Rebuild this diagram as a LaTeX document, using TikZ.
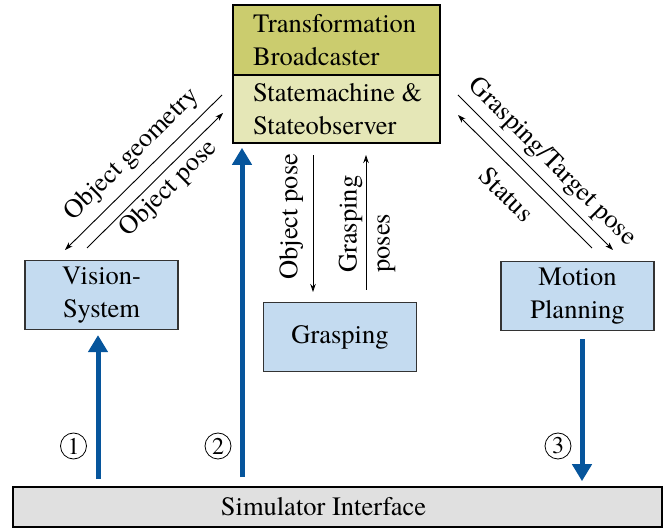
\documentclass[tikz,border=0pt]{standalone}
\usepackage{fontspec}
\setmainfont{TeX Gyre Termes}
\usetikzlibrary{arrows.meta}
\definecolor{olivedark}{RGB}{203,204,110}
\definecolor{olivelight}{RGB}{229,231,183}
\definecolor{boxblue}{RGB}{196,219,240}
\definecolor{simgray}{RGB}{224,224,224}
\definecolor{flowblue}{RGB}{6,85,156}
\begin{document}
\begin{tikzpicture}[x=1pt,y=-1pt,
  >={Stealth[length=8pt,width=5.5pt]},
  every node/.style={font=\rmfamily\fontsize{26.5}{33}\selectfont},
  topbox/.style={draw=black, line width=1.6pt, minimum width=207pt, inner sep=0pt},
  toptext/.style={anchor=west, align=left, inner sep=0pt},
  bluebox/.style={draw=black!80, fill=boxblue, line width=1.2pt, align=center, minimum width=153pt, minimum height=69pt},
  simbox/.style={draw=black, fill=simgray, line width=1.6pt, minimum width=649pt, minimum height=40pt},
  flow/.style={draw=flowblue, line width=5pt, -{Triangle[width=19pt,length=17pt]}},
  msg/.style={draw=black, line width=0.9pt},
  num/.style={circle, draw=black, line width=0.8pt, inner sep=0pt, minimum size=26pt, font=\rmfamily\fontsize{24}{24}\selectfont},
]
\useasboundingbox (0,0) rectangle (665,529);

% top box
\node[topbox, fill=olivedark, minimum height=70pt] (tf) at (336.5,40) {};
\node[topbox, fill=olivelight, minimum height=68pt] (sm) at (336.5,109) {};
\node[toptext] (tft) at (253,40) {Transformation\\Broadcaster};
\node[toptext] (smt) at (253,109) {Statemachine \&\\Stateobserver};

% blue boxes
\node[bluebox] (vis) at (101.5,295) {Vision-\\System};
\node[bluebox] (grasp) at (340,337) {Grasping};
\node[bluebox] (mp) at (577.5,296) {Motion\\Planning};
\node[simbox] (sim) at (337.5,507) {};
\node (simt) at (323.5,507) {Simulator Interface};

% thick flows
\coordinate (c1) at (98,0);
\coordinate (c2) at (242,0);
\coordinate (c3) at (582,0);
\draw[flow, shorten <=7pt, shorten >=5pt] (sim.north -| c1) -- (vis.south -| c1);
\draw[flow, shorten <=9pt, shorten >=4pt] (sim.north -| c2) -- (sm.south -| c2);
\draw[flow, shorten <=8pt, shorten >=5pt] (mp.south -| c3) -- (sim.north -| c3);

\node[num] (n1) at (73.5,446) {1};
\node[num] (n2) at (218,446) {2};
\node[num] (n3) at (558,446) {3};

% left diagonal messages
\coordinate (og1) at (65,250);
\coordinate (og2) at (222,95);
\draw[msg,<-] (og1) -- node[sloped, above=5pt, pos=0.52] {Object geometry} (og2);
\coordinate (op1) at (87,248);
\coordinate (op2) at (223,113);
\draw[msg,->] (op1) -- node[sloped, below=0pt, pos=0.52] {Object pose} (op2);

% right diagonal messages
\coordinate (gt1) at (458,95);
\coordinate (gt2) at (613,250);
\draw[msg,->] (gt1) -- node[sloped, above=3pt, pos=0.52] {Grasping/Target pose} (gt2);
\coordinate (st1) at (458,115);
\coordinate (st2) at (592,248);
\draw[msg,<-] (st1) -- node[sloped, below=9pt, pos=0.48] {Status} (st2);

% vertical messages
\coordinate (vo1) at (313,155);
\coordinate (vo2) at (313,292);
\draw[msg,<-] (vo2) -- node[sloped, above=6pt, pos=0.55] {Object pose} (vo1);
\coordinate (gp1) at (366,290);
\coordinate (gp2) at (366,155);
\draw[msg,->] (gp1) -- (gp2);
\node[rotate=90, align=left, anchor=west, inner sep=0pt] (gpl) at (367,273) {Grasping\\poses};
\end{tikzpicture}
\end{document}
